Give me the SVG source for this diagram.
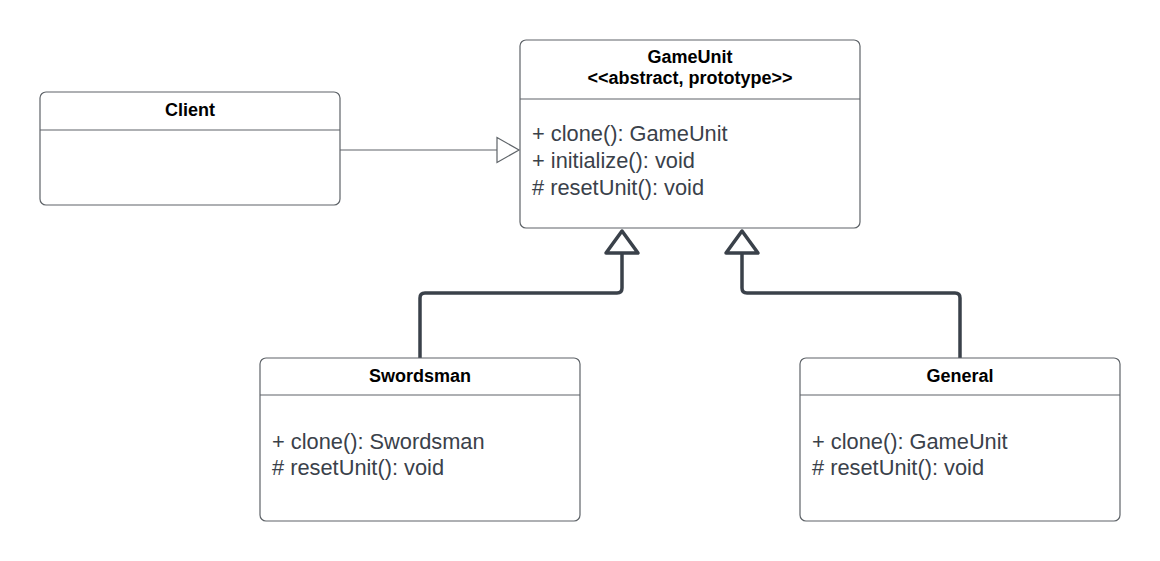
<svg xmlns="http://www.w3.org/2000/svg" width="1160" height="561" viewBox="0 0 1160 561">
<style>
.box{fill:#fff;stroke:#5e6368;stroke-width:1.2}
.div{stroke:#5e6368;stroke-width:1.2}
.title{font-family:"Liberation Sans",Arial,sans-serif;font-weight:bold;font-size:18px;fill:#000;text-anchor:middle}
.mem{font-family:"Liberation Sans",Arial,sans-serif;font-size:21.8px;fill:#3a414a}
.thick{fill:none;stroke:#3a414a;stroke-width:3.5;stroke-linejoin:round}
.thin{fill:none;stroke:#5e6368;stroke-width:1.2}
</style>
<rect width="1160" height="561" fill="#fff"/>
<g id="connectors">
  <path class="thin" d="M340 150 H497"/>
  <polygon points="497,137.5 519,150 497,162.5" fill="#fff" stroke="#5e6368" stroke-width="1.2"/>
  <path class="thick" d="M420 358 V298 Q420 293 425 293 H617 Q622 293 622 288 V253"/>
  <polygon class="thick" points="606,253 622,231 638,253" fill="#fff"/>
  <path class="thick" d="M960 358 V298 Q960 293 955 293 H747 Q742 293 742 288 V253"/>
  <polygon class="thick" points="726,253 742,231 758,253" fill="#fff"/>
</g>
<g id="client">
  <rect class="box" x="40" y="92" width="300" height="113" rx="6"/>
  <line class="div" x1="40" y1="130" x2="340" y2="130"/>
  <text class="title" x="190" y="116">Client</text>
</g>
<g id="gameunit">
  <rect class="box" x="520" y="40" width="340" height="188" rx="6"/>
  <line class="div" x1="520" y1="99" x2="860" y2="99"/>
  <text class="title" x="690" y="63">GameUnit</text>
  <text class="title" x="690" y="84">&lt;&lt;abstract, prototype&gt;&gt;</text>
  <text class="mem" x="532" y="141">+ clone(): GameUnit</text>
  <text class="mem" x="532" y="168">+ initialize(): void</text>
  <text class="mem" x="532" y="195"># resetUnit(): void</text>
</g>
<g id="swordsman">
  <rect class="box" x="260" y="358" width="320" height="163" rx="6"/>
  <line class="div" x1="260" y1="395" x2="580" y2="395"/>
  <text class="title" x="420" y="382">Swordsman</text>
  <text class="mem" x="272" y="449">+ clone(): Swordsman</text>
  <text class="mem" x="272" y="475"># resetUnit(): void</text>
</g>
<g id="general">
  <rect class="box" x="800" y="358" width="320" height="163" rx="6"/>
  <line class="div" x1="800" y1="395" x2="1120" y2="395"/>
  <text class="title" x="960" y="382">General</text>
  <text class="mem" x="812" y="449">+ clone(): GameUnit</text>
  <text class="mem" x="812" y="475"># resetUnit(): void</text>
</g>
</svg>
